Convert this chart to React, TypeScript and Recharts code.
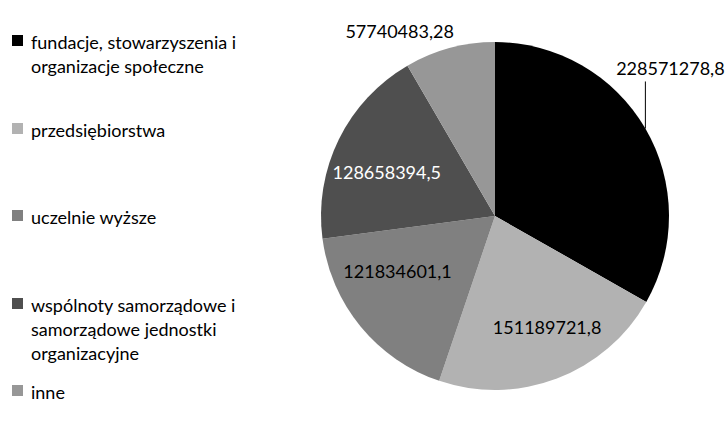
import { PieChart, Pie, Cell } from "recharts";

const categories = [
  "fundacje, stowarzyszenia i organizacje społeczne",
  "przedsiębiorstwa",
  "uczelnie wyższe",
  "wspólnoty samorządowe i samorządowe jednostki organizacyjne",
  "inne",
];

const amounts = [228571278.8, 151189721.8, 121834601.1, 128658394.5, 57740483.28];

const colors = ["#000000", "#b2b2b2", "#808080", "#4f4f4f", "#979797"];

const labelColors = ["#000000", "#000000", "#000000", "#ffffff", "#000000"];

const data = categories.map((name, i) => ({ name, value: amounts[i] }));

const FONT = "Lato, 'Open Sans', sans-serif";
const RADIAN = Math.PI / 180;

// small hand nudges so inside labels sit where Excel's best-fit put them
const insideNudge: Record<number, [number, number]> = {
  1: [10, 0],
  2: [-6, -20],
  3: [-2, 8],
};

const formatValue = (v: number) => String(v).replace(".", ",");

const renderLabel = (props: any) => {
  const { cx, cy, midAngle, outerRadius, index, value } = props;
  const cos = Math.cos(-midAngle * RADIAN);
  const sin = Math.sin(-midAngle * RADIAN);
  const text = formatValue(value);

  if (index === 0) {
    const sx = cx + outerRadius * cos;
    const sy = cy + outerRadius * sin;
    return (
      <g>
        <line x1={sx} y1={sy} x2={sx} y2={sy - 47} stroke="#000" strokeWidth={1} />
        <text x={sx + 25} y={sy - 53} textAnchor="middle" fill="#000" fontSize={18} fontFamily={FONT}>
          {text}
        </text>
      </g>
    );
  }

  if (index === 4) {
    const sx = cx + outerRadius * cos;
    const sy = cy + outerRadius * sin;
    return (
      <text x={sx - 50} y={sy - 10} textAnchor="middle" fill="#000" fontSize={18} fontFamily={FONT}>
        {text}
      </text>
    );
  }

  const r = outerRadius * 0.68;
  const [nx, ny] = insideNudge[index] || [0, 0];
  return (
    <text
      x={cx + r * cos + nx}
      y={cy + r * sin + ny}
      textAnchor="middle"
      dominantBaseline="central"
      fill={labelColors[index]}
      fontSize={18}
      fontFamily={FONT}
    >
      {text}
    </text>
  );
};

// legend drawn beside the chart so it does not shift the pie's offset
const SideLegend = () => (
  <div style={{ position: "absolute", left: 0, top: 0, width: 280, height: 421 }}>
    {categories.map((name, i) => (
      <div
        key={name}
        style={{
          position: "absolute",
          left: 12,
          top: 30 + i * 87.5,
          display: "flex",
          alignItems: "flex-start",
        }}
      >
        <span
          style={{
            display: "inline-block",
            width: 11,
            height: 11,
            marginTop: 5,
            marginRight: 8,
            background: colors[i],
            flexShrink: 0,
          }}
        />
        <span
          style={{
            width: 240,
            fontSize: 18,
            lineHeight: "24px",
            color: "#000",
            fontFamily: FONT,
          }}
        >
          {name}
        </span>
      </div>
    ))}
  </div>
);

const App = () => {
  return (
    <div style={{ position: "absolute", left: 0, top: 0, width: 727, height: 421, background: "#fff" }}>
      <PieChart width={727} height={421} margin={{ top: 0, right: 0, bottom: 0, left: 0 }}>
        <Pie
          data={data}
          dataKey="value"
          nameKey="name"
          cx={495}
          cy={216}
          outerRadius={174}
          startAngle={90}
          endAngle={-270}
          stroke="none"
          label={renderLabel}
          labelLine={false}
          isAnimationActive={false}
        >
          {data.map((d, i) => (
            <Cell key={d.name} fill={colors[i]} />
          ))}
        </Pie>
      </PieChart>
      <SideLegend />
    </div>
  );
};

export default App;
